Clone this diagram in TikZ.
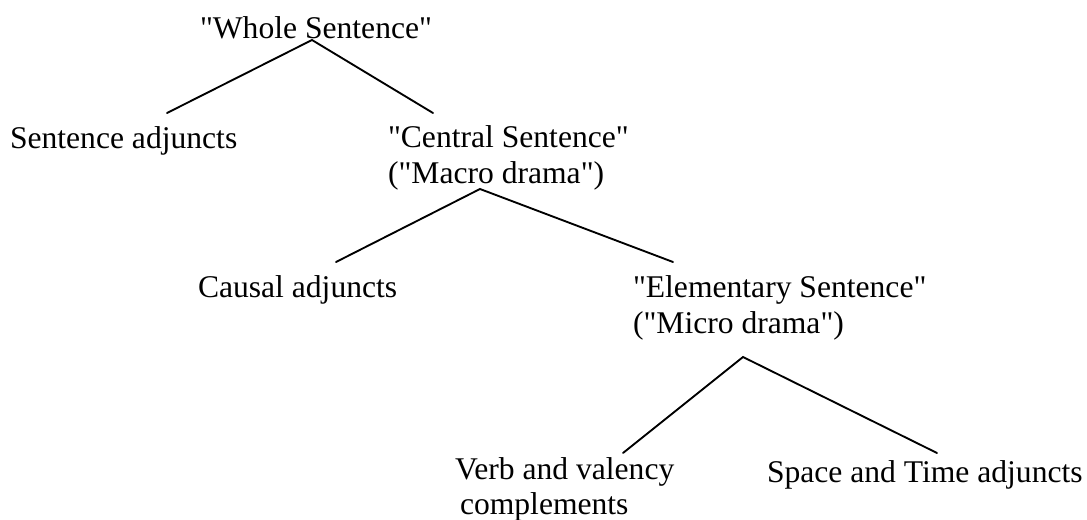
\documentclass[tikz,border=0pt]{standalone}
\usepackage{fontspec}
\setmainfont{Liberation Serif}[Ligatures=TeXOff]
\begin{document}
\begin{tikzpicture}[x=0.75pt,y=-0.75pt,
  lbl/.style={anchor=base west,inner sep=0pt,outer sep=0pt,font=\fontsize{23.7}{26}\selectfont},
  branch/.style={line width=1.4pt,line cap=round}]
\useasboundingbox (0,0) rectangle (1087,520);
% labels
\node[lbl] (whole) at (200,39) {"Whole Sentence"};
\node[lbl] (sadj) at (10,149) {Sentence adjuncts};
\node[lbl] (central) at (388,148) {"Central Sentence"};
\node[lbl] (macro) at (388,184) {("Macro drama")};
\node[lbl] (causal) at (198,297) {Causal adjuncts};
\node[lbl] (elem) at (633,297) {"Elementary Sentence"};
\node[lbl] (micro) at (633,333) {("Micro drama")};
\node[lbl] (verb) at (455,479) {Verb and valency};
\node[lbl] (compl) at (460,514) {complements};
\node[lbl] (space) at (767,482) {Space and Time adjuncts};
% branch points
\coordinate (a1) at (312,40);
\coordinate (l1) at (167,113);
\coordinate (r1) at (433,113);
\coordinate (a2) at (480,189);
\coordinate (l2) at (336,262);
\coordinate (r2) at (673,262);
\coordinate (a3) at (743,357);
\coordinate (l3) at (623,453);
\coordinate (r3) at (937,453);
% connectors
\draw[branch] (l1) -- (a1) -- (r1);
\draw[branch] (l2) -- (a2) -- (r2);
\draw[branch] (l3) -- (a3) -- (r3);
\end{tikzpicture}
\end{document}
